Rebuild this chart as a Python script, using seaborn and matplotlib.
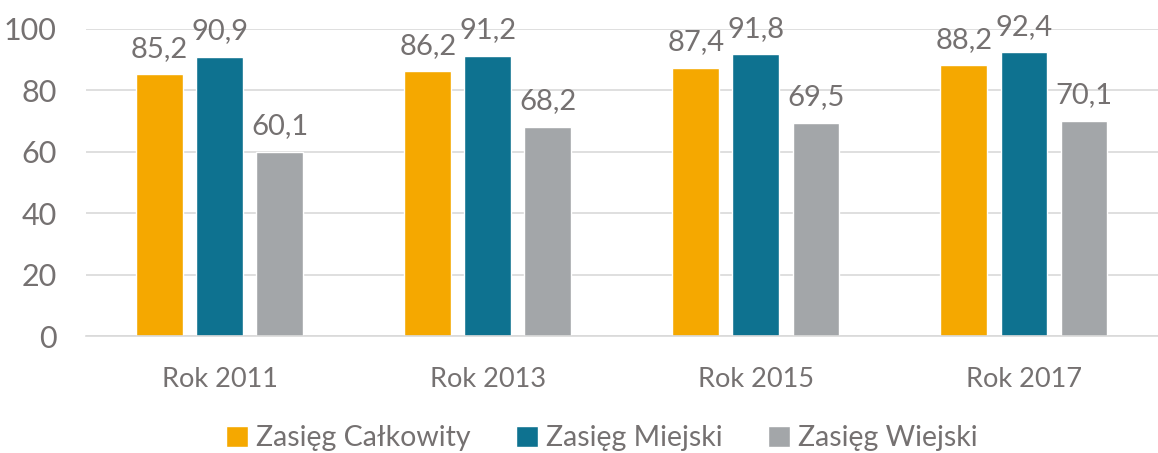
import matplotlib
matplotlib.use("Agg")
import matplotlib.pyplot as plt
import seaborn as sns
import pandas as pd
from matplotlib.patches import Patch

# ----------------------------------------------
# DATA
# ----------------------------------------------
years = ["Rok 2011", "Rok 2013", "Rok 2015", "Rok 2017"]
series = ["Zasięg Całkowity", "Zasięg Miejski", "Zasięg Wiejski"]
total = [85.2, 86.2, 87.4, 88.2]
urban = [90.9, 91.2, 91.8, 92.4]
rural = [60.1, 68.2, 69.5, 70.1]
y_ticks = [0, 20, 40, 60, 80, 100]

colors = ["#F5A800", "#0E7290", "#A3A6A9"]
TEXT = "#757171"
GRID = "#D9D9D9"

df = pd.DataFrame({
    "year": years * 3,
    "series": [s for s in series for _ in years],
    "value": total + urban + rural,
})

sns.set_theme(style="white")
plt.rcParams["font.family"] = ["Lato", "DejaVu Sans"]

fig = plt.figure(figsize=(11.58, 4.53), dpi=100)
ax = fig.add_axes([0.074, 0.258, 0.926, 0.678])

sns.barplot(data=df, x="year", y="value", hue="series", order=years,
            hue_order=series, palette=colors, width=0.672, gap=0.22,
            saturation=1, legend=False, ax=ax)

for cont in ax.containers:
    ax.bar_label(cont, labels=[f"{v:.1f}".replace(".", ",") for v in cont.datavalues],
                 padding=9, fontsize=21, color=TEXT)

ax.set_ylim(0, 100)
ax.set_xlim(-0.5, 3.5)
ax.set_yticks(y_ticks)
ax.yaxis.grid(True, color=GRID, linewidth=1.2)
ax.set_axisbelow(True)
for s in ["top", "right", "left"]:
    ax.spines[s].set_visible(False)
ax.spines["bottom"].set_color(GRID)
ax.spines["bottom"].set_linewidth(1.2)
ax.set_xlabel("")
ax.set_ylabel("")
ax.tick_params(axis="y", length=0, labelsize=22, labelcolor=TEXT, pad=21)
ax.tick_params(axis="x", length=0, labelsize=19.5, labelcolor=TEXT, pad=22)

handles = [Patch(facecolor=c, label=s) for c, s in zip(colors, series)]
fig.legend(handles=handles, loc="center", bbox_to_anchor=(0.52, 0.033),
           ncol=3, frameon=False, fontsize=20.5, labelcolor=TEXT,
           handlelength=0.75, handleheight=0.75, handletextpad=0.3,
           columnspacing=1.6)

fig.savefig("out.png", dpi=100)
